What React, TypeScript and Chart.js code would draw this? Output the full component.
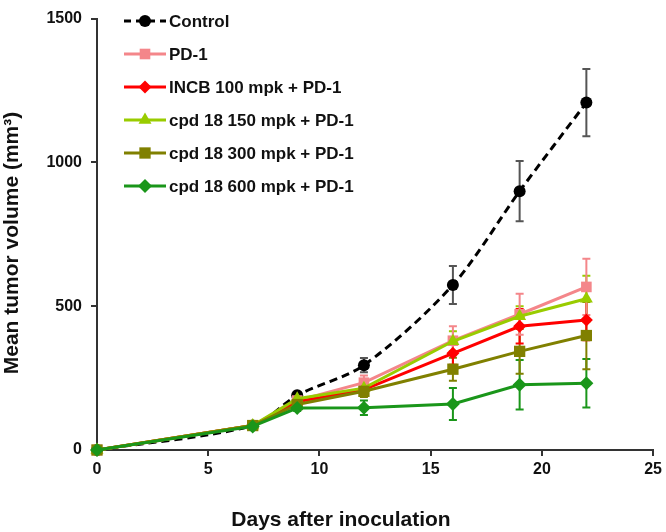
import React, { useEffect, useRef } from "react";
import { Chart, registerables } from "chart.js";

Chart.register(...registerables);

const days = [0, 7, 9, 12, 16, 19, 22];
const seriesNames = [
  "Control",
  "PD-1",
  "INCB 100 mpk + PD-1",
  "cpd 18 150 mpk + PD-1",
  "cpd 18 300 mpk + PD-1",
  "cpd 18 600 mpk + PD-1",
];
const control = [0, 85, 190, 295, 574, 900, 1208];
const controlErr = [0, 5, 10, 25, 66, 105, 117];
const pd1 = [0, 85, 172, 234, 380, 472, 567];
const pd1Err = [0, 5, 12, 25, 50, 71, 98];
const incb = [0, 85, 168, 210, 336, 430, 452];
const incbErr = [0, 5, 12, 20, 40, 60, 70];
const cpd150 = [0, 85, 178, 215, 378, 465, 526];
const cpd150Err = [0, 5, 10, 20, 35, 35, 80];
const cpd300 = [0, 85, 158, 204, 281, 343, 398];
const cpd300Err = [0, 5, 10, 20, 40, 78, 117];
const cpd600 = [0, 82, 146, 147, 160, 227, 232];
const cpd600Err = [0, 5, 10, 25, 56, 86, 84];

const xTicks = [0, 5, 10, 15, 20, 25];
const yTicks = [0, 500, 1000, 1500];

const FONT = "'Liberation Sans', Arial, sans-serif";

const styles = [
  { color: "#000000", err: "#555555", point: "circle", radius: 6, dash: [8, 5] },
  { color: "#F4868A", err: "#F4868A", point: "rect", radius: 7.5, dash: [] },
  { color: "#FF0000", err: "#FF0000", point: "rectRot", radius: 6.5, dash: [] },
  { color: "#99CC00", err: "#99CC00", point: "triangle", radius: 7.5, dash: [] },
  { color: "#808000", err: "#808000", point: "rect", radius: 8, dash: [] },
  { color: "#1A961A", err: "#1A961A", point: "rectRot", radius: 7, dash: [] },
];

export default function App() {
  const ref = useRef<HTMLCanvasElement>(null);
  useEffect(() => {
    document.body.style.margin = "0";
    const values = [control, pd1, incb, cpd150, cpd300, cpd600];
    const errs = [controlErr, pd1Err, incbErr, cpd150Err, cpd300Err, cpd600Err];
    const datasets = values.map((v, i) => ({
      label: seriesNames[i],
      data: days.map((d, j) => ({ x: d, y: v[j] })),
      borderColor: styles[i].color,
      backgroundColor: styles[i].color,
      borderWidth: 3,
      borderDash: styles[i].dash,
      pointStyle: styles[i].point,
      pointRadius: styles[i].radius,
      pointBorderWidth: 0,
      pointBackgroundColor: styles[i].color,
      clip: false,
      order: 5 - i,
      tension: i === 0 ? 0.3 : 0,
    }));

    function drawMarker(ctx: any, type: string, r: number, x: number, y: number, color: string) {
      ctx.fillStyle = color;
      ctx.beginPath();
      if (type === "circle") {
        ctx.arc(x, y, r, 0, Math.PI * 2);
      } else if (type === "rect") {
        const h = r * Math.SQRT1_2;
        ctx.rect(x - h, y - h, 2 * h, 2 * h);
      } else if (type === "rectRot") {
        ctx.moveTo(x, y - r);
        ctx.lineTo(x + r, y);
        ctx.lineTo(x, y + r);
        ctx.lineTo(x - r, y);
        ctx.closePath();
      } else if (type === "triangle") {
        const s = r * 0.866;
        ctx.moveTo(x, y - r);
        ctx.lineTo(x + s, y + r / 2);
        ctx.lineTo(x - s, y + r / 2);
        ctx.closePath();
      }
      ctx.fill();
    }

    const errorBars = {
      id: "errorBars",
      beforeDatasetsDraw(chart: any) {
        const ctx = chart.ctx;
        const ys = chart.scales.y;
        ctx.save();
        for (let i = values.length - 1; i >= 0; i--) {
          const meta = chart.getDatasetMeta(i);
          ctx.strokeStyle = styles[i].err;
          ctx.lineWidth = 2;
          meta.data.forEach((pt: any, j: number) => {
            const e = errs[i][j];
            if (!e) return;
            const yt = ys.getPixelForValue(values[i][j] + e);
            const yb = ys.getPixelForValue(values[i][j] - e);
            ctx.beginPath();
            ctx.moveTo(pt.x, yt);
            ctx.lineTo(pt.x, yb);
            ctx.moveTo(pt.x - 4, yt);
            ctx.lineTo(pt.x + 4, yt);
            ctx.moveTo(pt.x - 4, yb);
            ctx.lineTo(pt.x + 4, yb);
            ctx.stroke();
          });
        }
        ctx.restore();
      },
    };

    const legendAndTitles = {
      id: "legendAndTitles",
      afterDraw(chart: any) {
        const ctx = chart.ctx;
        ctx.save();
        ctx.font = `bold 17px ${FONT}`;
        ctx.textBaseline = "middle";
        seriesNames.forEach((name, i) => {
          const y = 21 + i * 33;
          const s = styles[i];
          ctx.strokeStyle = s.color;
          ctx.lineWidth = 3;
          ctx.setLineDash(s.dash.length ? [7, 5] : []);
          ctx.beginPath();
          ctx.moveTo(124, y);
          ctx.lineTo(166, y);
          ctx.stroke();
          ctx.setLineDash([]);
          drawMarker(ctx, s.point, s.radius, 145, y, s.color);
          ctx.fillStyle = "#111";
          ctx.textAlign = "left";
          ctx.fillText(name, 169, y + 1);
        });
        ctx.fillStyle = "#111";
        ctx.font = `bold 21px ${FONT}`;
        ctx.textAlign = "center";
        ctx.fillText("Days after inoculation", 341, 520);
        ctx.translate(12, 243);
        ctx.rotate(-Math.PI / 2);
        ctx.font = `bold 21px ${FONT}`;
        ctx.fillText("Mean tumor volume (mm\u00B3)", 0, 0);
        ctx.restore();
      },
    };

    const chart = new Chart(ref.current!, {
      type: "line",
      data: { datasets: datasets as any },
      options: {
        animation: false,
        responsive: false,
        layout: { padding: { top: 9, right: 11, left: 0, bottom: 0 } },
        plugins: { legend: { display: false }, tooltip: { enabled: false } },
        scales: {
          x: {
            type: "linear",
            min: 0,
            max: 25,
            afterBuildTicks: (s: any) => {
              s.ticks = xTicks.map((v) => ({ value: v }));
            },
            afterFit: (s: any) => {
              s.height = 82;
            },
            grid: { drawOnChartArea: false, drawTicks: true, tickLength: 6, color: "#333", lineWidth: 2 },
            border: { display: true, color: "#333", width: 2 },
            ticks: {
              color: "#111",
              font: { family: FONT, size: 16, weight: "bold" },
              padding: 4,
              callback: (v: any) => String(v),
            },
          },
          y: {
            type: "linear",
            min: 0,
            max: 1500,
            afterBuildTicks: (s: any) => {
              s.ticks = yTicks.map((v) => ({ value: v }));
            },
            afterFit: (s: any) => {
              s.width = 97;
            },
            grid: { drawOnChartArea: false, drawTicks: true, tickLength: 6, color: "#333", lineWidth: 2 },
            border: { display: true, color: "#333", width: 2 },
            ticks: {
              color: "#111",
              font: { family: FONT, size: 16, weight: "bold" },
              padding: 9,
              callback: (v: any) => String(v),
            },
          },
        },
      } as any,
      plugins: [errorBars, legendAndTitles],
    });
    return () => chart.destroy();
  }, []);
  return (
    <div style={{ width: 666, height: 532, background: "#fff" }}>
      <canvas ref={ref} width={666} height={532} />
    </div>
  );
}
